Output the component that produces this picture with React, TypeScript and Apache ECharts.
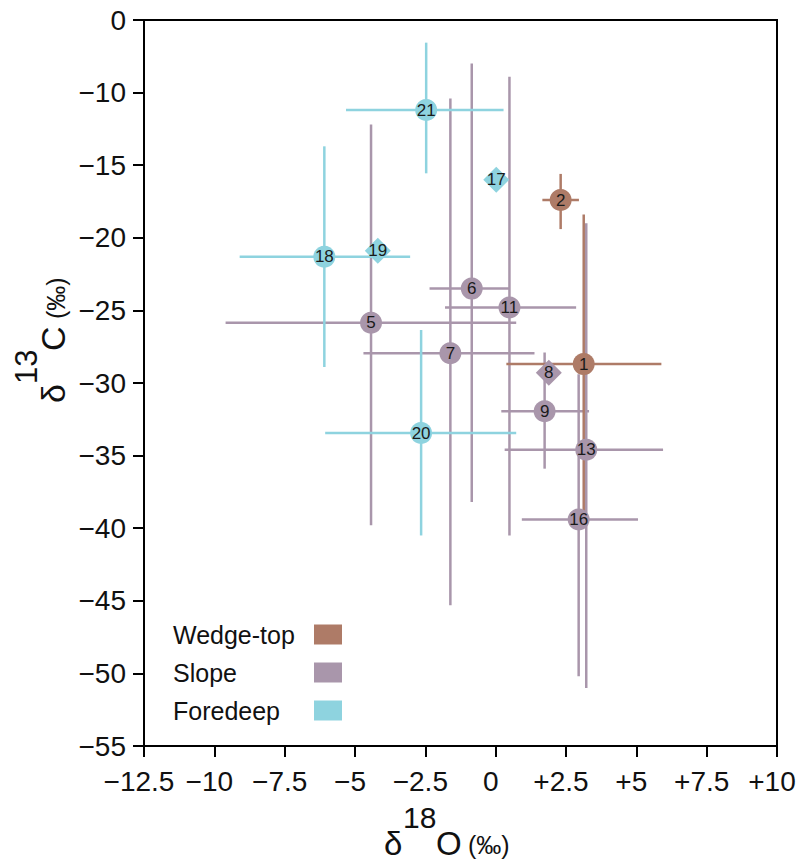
import React, { useEffect, useRef } from 'react';
import * as echarts from 'echarts';

type Row = [string, number, number, number | null, number | null, number | null, number | null];

const FONT = "'Liberation Sans', Arial, Helvetica, sans-serif";

const groupNames = ['Wedge-top', 'Slope', 'Foredeep'];
const groupColors = ['#AE7B67', '#A996AB', '#8ED3DF'];

// sample, δ18O, δ13C, δ18O min, δ18O max, δ13C upper, δ13C lower
const wedgeTopSamples: Row[] = [
  ['1', 3.13, -28.7, 0.38, 5.89, -18.4, -38.9],
  ['2', 2.31, -17.4, 1.66, 2.96, -15.6, -19.4],
];

const slopeSamples: Row[] = [
  ['5', -4.43, -25.85, -9.6, 0.73, -12.2, -39.8],
  ['6', -0.85, -23.5, -2.35, 0.49, -8.0, -38.2],
  ['7', -1.61, -27.95, -4.7, 1.38, -10.4, -45.3],
  ['8', 1.89, -29.3, null, null, null, null],
  ['9', 1.74, -31.95, 0.2, 3.32, -27.9, -35.9],
  ['11', 0.49, -24.8, -1.8, 2.86, -8.9, -40.5],
  ['13', 3.22, -34.6, 0.32, 5.95, -19.0, -51.0],
  ['16', 2.95, -39.4, 0.93, 5.06, -29.4, -50.2],
];

const foredeepSamples: Row[] = [
  ['17', 0.02, -16.0, null, null, null, null],
  ['18', -6.09, -21.3, -9.1, -3.04, -13.7, -28.9],
  ['19', -4.19, -20.9, null, null, null, null],
  ['20', -2.65, -33.45, -6.06, 0.73, -26.35, -40.5],
  ['21', -2.47, -11.2, -5.32, 0.28, -6.56, -15.56],
];

const diamondSamples = ['8', '17', '19'];

const xTickValues = [-12.5, -10, -7.5, -5, -2.5, 0, 2.5, 5, 7.5, 10];
const xTickLabels = ['\u221212.5', '\u221210', '\u22127.5', '\u22125', '\u22122.5', '0', '+2.5', '+5', '+7.5', '+10'];
const yTickValues = [-5, -10, -15, -20, -25, -30, -35, -40, -45, -50, -55];
const yTickLabels = ['0', '\u221210', '\u221215', '\u221220', '\u221225', '\u221230', '\u221235', '\u221240', '\u221245', '\u221250', '\u221255'];

// axis title pieces: [text, font size, x offset, y offset]
const xTitleParts: [string, number, number, number][] = [
  ['δ', 33, 0, 0],
  ['18', 30, 19, -26],
  ['O', 33, 52, 0],
  ['(‰)', 25, 84, 2],
];
const yTitleParts: [string, number, number, number][] = [
  ['δ', 34, 0, 0],
  ['13', 31, 19, -27],
  ['C', 34, 52, 0],
  ['(‰)', 25, 84, 3],
];

const groupRows = [wedgeTopSamples, slopeSamples, foredeepSamples];

function labelFor(values: number[], labels: string[]) {
  return (v: number) => {
    const i = values.findIndex((t) => Math.abs(t - v) < 1e-6);
    return i >= 0 ? labels[i] : '';
  };
}

function titleChildren(parts: [string, number, number, number][]) {
  return parts.map(([text, size, dx, dy]) => ({
    type: 'text',
    x: dx,
    y: dy,
    silent: true,
    style: {
      text,
      fontSize: size,
      fontFamily: FONT,
      fill: '#111',
      align: 'left',
      verticalAlign: 'middle',
    },
  }));
}

export default function App() {
  const ref = useRef<HTMLDivElement>(null);

  useEffect(() => {
    if (!ref.current) return;
    const chart = echarts.init(ref.current, undefined, { renderer: 'svg' });

    const barSeries = [1, 2, 0].map((gi) => {
      const color = groupColors[gi];
      return {
        type: 'custom',
        name: groupNames[gi] + ' range',
        z: 1,
        silent: true,
        encode: { x: [0, 2, 3], y: [1, 4, 5] },
        data: groupRows[gi]
          .filter((r) => r[3] !== null)
          .map((r) => [r[1], r[2], r[3], r[4], r[5], r[6]]),
        renderItem: (_params: any, api: any) => {
          const x = api.value(0);
          const y = api.value(1);
          const a = api.coord([api.value(2), y]);
          const b = api.coord([api.value(3), y]);
          const t = api.coord([x, api.value(4)]);
          const d = api.coord([x, api.value(5)]);
          const style = { stroke: color, lineWidth: 2.5, fill: null };
          return {
            type: 'group',
            children: [
              { type: 'line', shape: { x1: a[0], y1: a[1], x2: b[0], y2: b[1] }, style },
              { type: 'line', shape: { x1: t[0], y1: t[1], x2: d[0], y2: d[1] }, style },
            ],
          };
        },
      };
    });

    const pointSeries = groupNames.map((name, gi) => ({
      type: 'scatter',
      name,
      z: 3,
      itemStyle: { color: groupColors[gi], opacity: 1 },
      label: {
        show: true,
        position: 'inside',
        formatter: '{b}',
        fontSize: 17,
        color: '#1a1a1a',
        fontFamily: FONT,
      },
      data: groupRows[gi].map((r) => {
        const diamond = diamondSamples.includes(r[0]);
        return {
          name: r[0],
          value: [r[1], r[2]],
          symbol: diamond ? 'diamond' : 'circle',
          symbolSize: diamond ? 26 : 22,
        };
      }),
    }));

    const option: any = {
      animation: false,
      backgroundColor: '#ffffff',
      textStyle: { fontFamily: FONT },
      grid: {
        left: 144,
        right: 25,
        top: 20,
        bottom: 119,
        show: true,
        borderColor: '#000',
        borderWidth: 2,
        backgroundColor: 'transparent',
      },
      xAxis: {
        type: 'value',
        min: -12.5,
        max: 10,
        interval: 2.5,
        axisLine: { show: true, onZero: false, lineStyle: { color: '#000', width: 2 } },
        axisTick: { show: true, length: 11, lineStyle: { color: '#000', width: 2 } },
        axisLabel: {
          formatter: labelFor(xTickValues, xTickLabels),
          fontSize: 28,
          color: '#111',
          margin: 21,
          fontFamily: FONT,
          padding: [0, 10, 0, 0],
          showMinLabel: true,
          showMaxLabel: true,
        },
        splitLine: { show: false },
      },
      yAxis: {
        type: 'value',
        min: -55,
        max: -5,
        interval: 5,
        axisLine: { show: true, onZero: false, lineStyle: { color: '#000', width: 2 } },
        axisTick: { show: true, length: 11, lineStyle: { color: '#000', width: 2 } },
        axisLabel: {
          formatter: labelFor(yTickValues, yTickLabels),
          fontSize: 28,
          color: '#111',
          margin: 18,
          fontFamily: FONT,
          showMinLabel: true,
          showMaxLabel: true,
        },
        splitLine: { show: false },
      },
      legend: {
        data: groupNames.map((n) => ({ name: n, icon: 'rect' })),
        orient: 'vertical',
        left: 173,
        top: 622,
        align: 'right',
        itemWidth: 28,
        itemHeight: 20,
        itemGap: 13,
        padding: 0,
        selectedMode: false,
        formatter: (n: string) => `{t|${n}}`,
        textStyle: {
          fontSize: 25,
          color: '#111',
          fontFamily: FONT,
          rich: { t: { width: 136, align: 'left', fontSize: 25, color: '#111', fontFamily: FONT } },
        },
      },
      graphic: [
        {
          type: 'group',
          x: 384,
          y: 843,
          silent: true,
          children: titleChildren(xTitleParts),
        },
        {
          type: 'group',
          x: 53,
          y: 403,
          rotation: Math.PI / 2,
          silent: true,
          children: titleChildren(yTitleParts),
        },
      ],
      series: [...barSeries, ...pointSeries],
    };

    chart.setOption(option);
    return () => chart.dispose();
  }, []);

  return (
    <div
      ref={ref}
      style={{ position: 'fixed', left: 0, top: 0, width: '802px', height: '865px', background: '#fff' }}
    />
  );
}
